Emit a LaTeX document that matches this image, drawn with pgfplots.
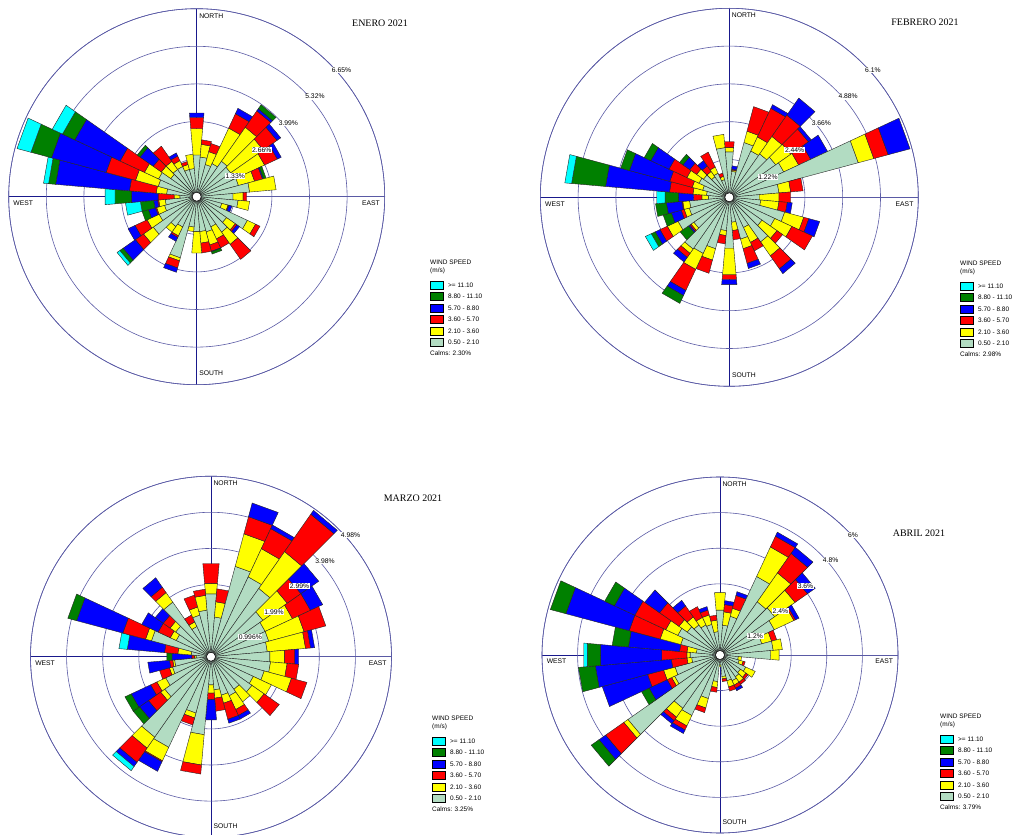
\documentclass[border=0pt]{standalone}
\usepackage{fontspec}
\setmainfont{Liberation Serif}
\setsansfont{Liberation Sans}
\usepackage{pgfplots}
\usepackage{pgfplotstable}
\pgfplotsset{compat=1.18}
\usepgfplotslibrary{polar}

\definecolor{cmint}{RGB}{178,220,194}
\definecolor{cyel}{RGB}{255,255,0}
\definecolor{cred}{RGB}{255,0,0}
\definecolor{cblu}{RGB}{0,0,255}
\definecolor{cgrn}{RGB}{0,128,0}
\definecolor{ccya}{RGB}{0,255,255}
\definecolor{ringcol}{RGB}{90,90,165}
\definecolor{crosscol}{RGB}{25,25,140}

% cumulative percentages: mint, yellow, red, blue, green, cyan
\pgfplotstableread{
d ca cb cc cd ce cf
0 1.48 2.42 2.82 2.97 2.97 2.97
10 1.41 1.86 2.02 2.02 2.02 2.02
20 1.18 1.65 1.95 1.95 1.95 1.95
30 1.29 2.68 3.24 3.45 3.45 3.45
40 1.53 3.00 3.71 3.80 3.97 3.97
50 1.47 2.88 3.47 3.63 3.63 3.63
60 1.41 2.65 3.15 3.30 3.30 3.30
70 1.53 2.12 2.41 2.45 2.54 2.54
80 1.88 2.82 2.82 2.82 2.82 2.82
90 1.29 1.65 1.77 1.77 1.77 1.77
100 1.47 1.88 1.88 1.88 1.88 1.88
110 0.92 1.15 1.18 1.29 1.29 1.29
120 1.98 2.30 2.47 2.47 2.47 2.47
130 1.29 1.67 1.74 1.85 1.85 1.85
140 1.53 2.06 2.71 2.71 2.71 2.71
150 1.18 1.65 2.00 2.00 2.00 2.00
160 1.29 1.77 2.00 2.02 2.10 2.10
170 1.24 1.65 2.00 2.00 2.00 2.00
180 1.24 2.00 2.00 2.00 2.00 2.00
190 1.08 1.24 1.24 1.24 1.24 1.24
200 2.24 2.35 2.61 2.77 2.77 2.77
210 1.18 1.53 1.59 1.74 1.74 1.74
220 1.29 1.53 1.53 1.53 1.53 1.53
230 1.88 2.30 2.65 3.18 3.32 3.44
240 1.47 1.94 2.41 2.68 2.68 2.68
250 1.18 1.47 1.51 1.77 2.00 2.00
260 1.12 1.35 1.39 1.53 2.00 2.53
270 0.60 0.80 1.37 2.31 2.90 3.25
280 1.07 1.44 2.39 5.01 5.26 5.44
290 1.41 2.24 3.32 5.32 6.07 6.58
300 1.49 2.04 2.99 4.76 5.24 5.64
310 1.12 1.53 1.88 2.45 2.57 2.57
320 1.18 1.53 2.18 2.18 2.18 2.18
330 1.18 1.41 1.59 1.71 1.71 1.71
340 1.00 1.18 1.29 1.29 1.29 1.29
350 1.00 1.51 1.51 1.51 1.51 1.51
}\enero

\pgfplotstableread{
d ca cb cc cd ce cf
0 1.47 1.61 1.80 1.80 1.80 1.80
10 0.84 0.88 0.91 1.02 1.02 1.02
20 1.83 2.21 3.03 3.03 3.03 3.03
30 1.65 2.15 3.17 3.30 3.30 3.30
40 1.71 2.40 3.24 3.91 3.91 3.91
50 1.83 2.42 3.12 3.23 3.23 3.23
60 1.94 2.47 2.90 3.50 3.50 3.50
70 4.31 4.83 5.31 6.04 6.04 6.04
80 1.61 1.99 2.39 2.39 2.39 2.39
90 0.97 1.61 1.99 1.99 1.99 1.99
100 1.02 1.61 1.88 2.04 2.04 2.04
110 1.85 2.49 2.66 3.02 3.02 3.02
120 1.62 2.23 2.96 2.96 2.96 2.96
130 1.29 1.88 2.10 2.10 2.10 2.10
140 1.76 2.31 2.82 3.01 3.01 3.01
150 1.08 1.61 1.91 1.91 1.91 1.91
160 1.40 1.72 2.21 2.38 2.38 2.38
170 0.81 1.08 1.38 1.38 1.38 1.38
180 1.65 2.51 2.67 2.83 2.83 2.83
190 1.08 1.24 1.51 1.51 1.51 1.51
200 1.72 2.10 2.54 2.54 2.54 2.54
210 2.00 2.57 3.32 3.50 3.78 3.78
220 2.04 2.21 2.37 2.55 2.55 2.55
230 1.40 1.51 1.56 1.61 1.94 1.94
240 1.83 2.21 2.47 2.64 2.78 2.99
250 1.34 1.51 1.61 1.94 2.21 2.21
260 1.29 1.51 1.54 2.04 2.39 2.39
270 0.68 0.89 1.16 1.65 2.08 2.35
280 0.74 1.18 1.94 4.01 5.11 5.33
290 0.89 1.24 1.99 3.34 3.63 3.63
300 1.08 1.51 2.15 2.80 3.03 3.03
310 1.02 1.29 1.56 1.83 1.96 1.96
320 0.81 1.02 1.24 1.45 1.45 1.45
330 0.86 1.08 1.61 1.61 1.61 1.61
340 0.59 0.70 0.81 0.81 0.81 0.81
350 1.61 2.04 2.04 2.04 2.04 2.04
}\febrero

\pgfplotstableread{
d ca cb cc cd ce cf
0 1.74 2.03 2.58 2.58 2.58 2.58
10 1.10 1.52 1.88 1.88 1.88 1.88
20 2.58 3.51 4.00 4.39 4.39 4.39
30 2.43 3.29 3.90 4.01 4.01 4.01
40 2.30 3.54 4.80 4.93 4.93 4.93
50 1.75 2.57 3.03 3.63 3.63 3.63
60 1.65 2.48 3.03 3.40 3.40 3.40
70 1.65 2.66 3.28 3.28 3.28 3.28
80 1.56 2.62 2.76 2.87 2.87 2.87
90 1.63 2.04 2.32 2.43 2.43 2.43
100 1.65 2.11 2.43 2.43 2.43 2.43
110 1.52 2.30 2.74 2.74 2.74 2.74
120 1.29 1.84 1.84 1.84 1.84 1.84
130 1.38 1.79 2.30 2.30 2.30 2.30
140 1.10 1.52 1.52 1.52 1.52 1.52
150 1.19 1.61 1.79 1.90 1.90 1.90
160 1.10 1.33 1.79 1.90 1.90 1.90
170 0.92 1.15 1.51 1.51 1.51 1.51
180 0.78 1.01 1.19 1.75 1.75 1.75
190 2.16 3.00 3.25 3.25 3.25 3.25
200 1.61 1.75 1.95 1.95 1.95 1.95
210 2.76 3.17 3.20 3.49 3.49 3.49
220 2.71 3.08 3.56 3.70 3.70 3.84
230 1.56 1.70 2.11 2.41 2.62 2.62
240 1.38 1.65 1.84 2.43 2.62 2.62
250 1.10 1.19 1.47 1.47 1.47 1.47
260 1.01 1.06 1.15 1.75 1.75 1.75
270 0.41 0.46 0.53 1.08 1.22 1.22
280 0.55 0.92 1.29 2.32 2.32 2.55
290 1.70 1.87 2.52 3.84 4.09 4.09
300 1.06 1.24 1.61 2.11 2.11 2.11
310 1.19 1.38 1.61 1.88 1.88 1.88
320 1.84 2.16 2.34 2.66 2.66 2.66
330 0.92 1.06 1.27 1.27 1.27 1.27
340 1.19 1.42 1.76 1.76 1.76 1.76
350 1.29 1.70 1.87 1.87 1.87 1.87
}\marzo

\pgfplotstableread{
d ca cb cc cd ce cf
0 1.52 2.11 2.11 2.11 2.11 2.11
10 1.01 1.46 1.71 1.84 1.84 1.84
20 1.35 1.63 2.08 2.21 2.21 2.21
30 2.92 4.02 4.42 4.57 4.57 4.57
40 2.19 3.38 4.18 4.43 4.43 4.43
50 2.25 3.09 3.60 3.92 3.92 3.92
60 2.02 2.75 2.81 2.94 2.94 2.94
70 1.46 1.80 1.98 1.98 1.98 1.98
80 1.80 2.11 2.11 2.11 2.11 2.11
90 1.71 2.00 2.00 2.00 2.00 2.00
100 0.62 0.73 0.73 0.73 0.73 0.73
110 0.67 0.81 0.88 0.88 0.88 0.88
120 0.96 1.31 1.31 1.31 1.31 1.31
130 0.84 1.07 1.16 1.16 1.16 1.16
140 0.90 1.12 1.21 1.21 1.21 1.21
150 0.96 1.12 1.24 1.33 1.33 1.33
160 0.90 1.12 1.26 1.26 1.26 1.26
170 0.73 0.81 0.90 0.90 0.90 0.90
180 0.34 0.39 0.39 0.39 0.39 0.39
190 0.90 1.10 1.26 1.26 1.26 1.26
200 1.52 1.85 2.01 2.01 2.01 2.01
210 2.25 2.64 2.79 2.92 2.92 2.92
220 2.19 2.56 2.70 2.83 2.83 2.83
230 3.79 3.96 4.71 4.98 5.30 5.30
240 1.69 1.80 1.97 2.64 2.92 2.92
250 1.57 1.97 2.53 4.11 4.11 4.11
260 0.96 1.12 1.65 4.22 4.79 4.79
270 1.01 1.12 1.97 4.04 4.49 4.61
280 0.80 1.12 1.37 3.10 3.65 3.65
290 1.37 2.09 3.17 5.38 5.92 5.92
300 1.57 2.02 3.17 3.93 4.29 4.29
310 1.35 1.69 2.49 3.10 3.10 3.10
320 1.24 1.57 2.02 2.25 2.25 2.25
330 1.12 1.40 1.80 1.80 1.80 1.80
340 1.07 1.40 1.57 1.69 1.69 1.69
350 0.79 1.18 1.35 1.35 1.35 1.35
}\abril

\pgfplotsset{
  wedge/.style={draw=black!85, line width=0.4pt, forget plot},
  rosestyle/.style={scale only axis, anchor=center, clip=false,
    xmin=0, xmax=360, ymin=0,
    xtick={0,90,180,270}, xticklabel=\empty, yticklabel=\empty,
    major tick length=0pt, grid=major,
    x grid style={crosscol, line width=0.6pt},
    y grid style={ringcol, line width=0.6pt},
    axis line style={ringcol, line width=0.6pt}},
}
\tikzset{
  rlab/.style={font=\sffamily\fontsize{6.8}{7}\selectfont, anchor=north west,
    fill=white, inner sep=0.6pt, xshift=1.5bp, yshift=-3bp},
  dlab/.style={font=\sffamily\fontsize{6.8}{7}\selectfont, inner sep=0pt},
  lt/.style={font=\sffamily\fontsize{6.5}{7}\selectfont, inner sep=0pt, anchor=west},
}

\newcommand\seg[4]{%
  \ifdim #3pt>#2pt\relax
    \pgfmathsetmacro\aA{mod(95-#1+720,360)}%
    \pgfmathsetmacro\aB{mod(85-#1+720,360)}%
    \edef\tmp{\noexpand\addplot[wedge,fill=#4] coordinates {(\aA,#2) (\aA,#3) (\aB,#3) (\aB,#2)} -- cycle;}%
    \tmp
  \fi}

\newcommand\rose[1]{%
  \pgfplotstablegetrowsof{#1}%
  \pgfmathtruncatemacro\nr{\pgfplotsretval-1}%
  \pgfplotsforeachungrouped \ri in {0,...,\nr}{%
    \pgfplotstablegetelem{\ri}{d}\of{#1}\edef\dd{\pgfplotsretval}%
    \pgfplotstablegetelem{\ri}{ca}\of{#1}\edef\va{\pgfplotsretval}%
    \pgfplotstablegetelem{\ri}{cb}\of{#1}\edef\vb{\pgfplotsretval}%
    \pgfplotstablegetelem{\ri}{cc}\of{#1}\edef\vc{\pgfplotsretval}%
    \pgfplotstablegetelem{\ri}{cd}\of{#1}\edef\vd{\pgfplotsretval}%
    \pgfplotstablegetelem{\ri}{ce}\of{#1}\edef\ve{\pgfplotsretval}%
    \pgfplotstablegetelem{\ri}{cf}\of{#1}\edef\vf{\pgfplotsretval}%
    \seg{\dd}{0}{\va}{cmint}%
    \seg{\dd}{\va}{\vb}{cyel}%
    \seg{\dd}{\vb}{\vc}{cred}%
    \seg{\dd}{\vc}{\vd}{cblu}%
    \seg{\dd}{\vd}{\ve}{cgrn}%
    \seg{\dd}{\ve}{\vf}{ccya}%
  }}

% direction labels and centre, #1 = ymax
\newcommand\compass[1]{%
  \draw[fill=white, line width=0.5pt] (axis cs:0,0) circle[radius=4.5bp];
  \node[dlab, anchor=north west, xshift=2.4bp, yshift=-4.5bp] at (axis cs:90,#1) {NORTH};
  \node[dlab, anchor=north west, xshift=4.6bp, yshift=-4bp] at (axis cs:180,#1) {WEST};
  \node[dlab, anchor=north east, xshift=-4.7bp, yshift=-4bp] at (axis cs:0,#1) {EAST};
  \node[dlab, anchor=south west, xshift=2.5bp, yshift=8.5bp] at (axis cs:270,#1) {SOUTH};
}

\newcommand\windlegend[3]{%
  \begin{scope}[shift={({#1bp},{835bp-#2bp})}]
    \node[lt] at (0,0) {WIND SPEED};
    \node[lt] at (0,-8.5bp) {(m/s)};
    \foreach \k/\col/\txt in {0/ccya/{>= 11.10},1/cgrn/{8.80 - 11.10},2/cblu/{5.70 - 8.80},3/cred/{3.60 - 5.70},4/cyel/{2.10 - 3.60},5/cmint/{0.50 - 2.10}}{
      \draw[fill=\col, draw=black, line width=0.4pt] (0,{-23bp-11.5bp*\k-4bp}) rectangle (13bp,{-23bp-11.5bp*\k+4bp});
      \node[lt] at (18bp,{-23bp-11.5bp*\k}) {\txt};
    }
    \node[lt] at (0,-91bp) {Calms: #3};
  \end{scope}}

\begin{document}
\begin{tikzpicture}
\useasboundingbox (0,0) rectangle (1015bp,835bp);

% ENERO
\begin{polaraxis}[rosestyle, at={(196.7bp,638.3bp)}, width=376bp, height=376bp,
  ymax=6.65, ytick={1.33,2.66,3.99,5.32,6.65}]
  \rose{\enero}
  \compass{6.65}
  \node[rlab] at (axis cs:45,1.33) {1.33\%};
  \node[rlab] at (axis cs:45,2.66) {2.66\%};
  \node[rlab] at (axis cs:45,3.99) {3.99\%};
  \node[rlab] at (axis cs:45,5.32) {5.32\%};
  \node[rlab] at (axis cs:45,6.65) {6.65\%};
\end{polaraxis}

% FEBRERO
\begin{polaraxis}[rosestyle, at={(729.3bp,637.7bp)}, width=378bp, height=378bp,
  ymax=6.1, ytick={1.22,2.44,3.66,4.88,6.1}]
  \rose{\febrero}
  \compass{6.1}
  \node[rlab] at (axis cs:45,1.22) {1.22\%};
  \node[rlab] at (axis cs:45,2.44) {2.44\%};
  \node[rlab] at (axis cs:45,3.66) {3.66\%};
  \node[rlab] at (axis cs:45,4.88) {4.88\%};
  \node[rlab] at (axis cs:45,6.1) {6.1\%};
\end{polaraxis}

% MARZO
\begin{polaraxis}[rosestyle, at={(211bp,178.3bp)}, width=361bp, height=361bp,
  ymax=4.98, ytick={0.996,1.992,2.988,3.984,4.98}]
  \rose{\marzo}
  \compass{4.98}
  \node[rlab] at (axis cs:45,0.996) {0.996\%};
  \node[rlab] at (axis cs:45,1.992) {1.99\%};
  \node[rlab] at (axis cs:45,2.988) {2.99\%};
  \node[rlab] at (axis cs:45,3.984) {3.98\%};
  \node[rlab] at (axis cs:45,4.98) {4.98\%};
\end{polaraxis}

% ABRIL
\begin{polaraxis}[rosestyle, at={(720bp,180bp)}, width=356bp, height=356bp,
  ymax=6, ytick={1.2,2.4,3.6,4.8,6}]
  \rose{\abril}
  \compass{6}
  \node[rlab] at (axis cs:45,1.2) {1.2\%};
  \node[rlab] at (axis cs:45,2.4) {2.4\%};
  \node[rlab] at (axis cs:45,3.6) {3.6\%};
  \node[rlab] at (axis cs:45,4.8) {4.8\%};
  \node[rlab] at (axis cs:45,6) {6\%};
\end{polaraxis}

% titles
\node[font=\fontsize{10}{12}\selectfont] at (380bp,812bp) {ENERO 2021};
\node[font=\fontsize{10}{12}\selectfont] at (925bp,812.3bp) {FEBRERO 2021};
\node[font=\fontsize{10}{12}\selectfont] at (413bp,337bp) {MARZO 2021};
\node[font=\fontsize{10}{12}\selectfont] at (919bp,302bp) {ABRIL 2021};

% legends
\windlegend{430}{262}{2.30\%}
\windlegend{960}{263}{2.98\%}
\windlegend{432}{718}{3.25\%}
\windlegend{940}{716}{3.79\%}
\end{tikzpicture}
\end{document}
